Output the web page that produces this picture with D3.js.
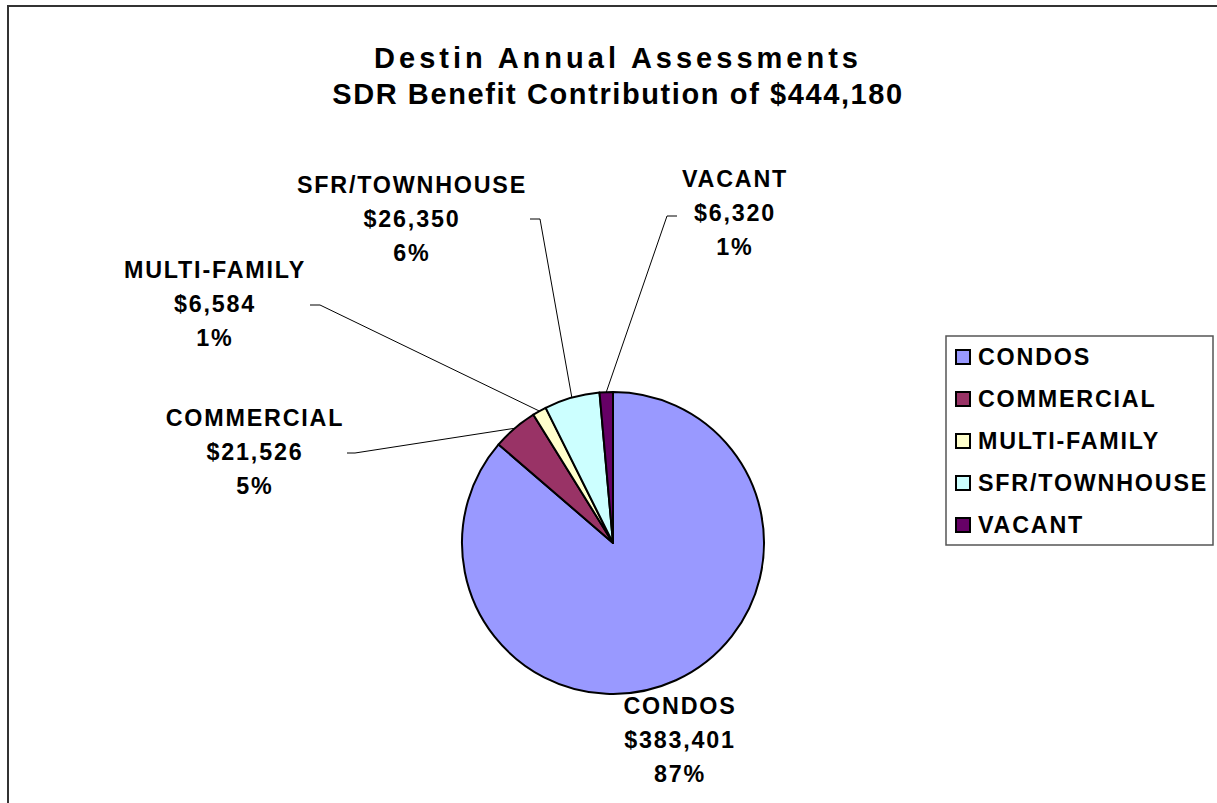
<!DOCTYPE html>
<meta charset="utf-8">
<script src="https://d3js.org/d3.v7.min.js"></script>
<style>
html, body { margin: 0; padding: 0; background: #fff; }
text { font-family: "Liberation Sans", Arial, sans-serif; font-weight: bold; fill: #000; }
</style>
<body>
<div id="my_dataviz"></div>
<script>

// data
var categories = ["CONDOS", "COMMERCIAL", "MULTI-FAMILY", "SFR/TOWNHOUSE", "VACANT"];
var values = [383401, 21526, 6584, 26350, 6320];
var percents = [87, 5, 1, 6, 1];
var colors = ["#9999FF", "#993366", "#FFFFCC", "#CCFFFF", "#660066"];
var titleLines = ["Destin Annual Assessments", "SDR Benefit Contribution of $444,180"];

// layout of the data labels (centre of first line), and where the leader starts
var labelAt = [[680, 706], [255, 418], [215, 270], [412, 185], [735, 179]];
var leaderFrom = [null, [347, 453, 8], [310, 305, 10], [530, 219, 10], [677, 216, -10]];
var titleSpacing = [4.0, 1.6];

var width = 1217, height = 803;
var cx = 613, cy = 543, radius = 151;
var fs = 23.3, ls = 1.8, lineGap = 34;

var svg = d3.select("#my_dataviz")
  .append("svg")
    .attr("width", width)
    .attr("height", height);

// outer frame (runs off right and bottom)
svg.append("rect")
  .attr("x", 8).attr("y", 6)
  .attr("width", 1230).attr("height", 820)
  .attr("fill", "none")
  .attr("stroke", "#333")
  .attr("stroke-width", 2);

// title
svg.selectAll(".title")
  .data(titleLines)
  .enter().append("text")
    .attr("class", "title")
    .attr("x", 618)
    .attr("y", function(d, i) { return 68 + i * 36; })
    .attr("text-anchor", "middle")
    .style("font-size", "29px")
    .style("letter-spacing", function(d, i) { return titleSpacing[i] + "px"; })
    .text(function(d) { return d; });

var pie = d3.pie().sort(null).value(function(d) { return d; });
var arcs = pie(values);
var arc = d3.arc().innerRadius(0).outerRadius(radius);

var g = svg.append("g").attr("transform", "translate(" + cx + "," + cy + ")");

g.selectAll("path")
  .data(arcs)
  .enter().append("path")
    .attr("d", arc)
    .attr("fill", function(d, i) { return colors[i]; })
    .attr("stroke", "#000")
    .attr("stroke-width", 2)
    .attr("stroke-linejoin", "round");

// leader lines
arcs.forEach(function(d, i) {
  var f = leaderFrom[i];
  if (!f) return;
  var a = (d.startAngle + d.endAngle) / 2;
  var px = cx + radius * Math.sin(a), py = cy - radius * Math.cos(a);
  svg.append("polyline")
    .attr("points", [[f[0], f[1]], [f[0] + f[2], f[1]], [px, py]].map(function(p) { return p.join(","); }).join(" "))
    .attr("fill", "none")
    .attr("stroke", "#000")
    .attr("stroke-width", 1);
});

// data labels
var fmt = d3.format("$,");
categories.forEach(function(c, i) {
  var lines = [c, fmt(values[i]), percents[i] + "%"];
  svg.append("g").selectAll("text")
    .data(lines)
    .enter().append("text")
      .attr("x", labelAt[i][0])
      .attr("y", function(d, j) { return labelAt[i][1] + j * lineGap + fs * 0.358; })
      .attr("text-anchor", "middle")
      .style("font-size", fs + "px")
      .style("letter-spacing", ls + "px")
      .text(function(d) { return d; });
});

// legend
var legend = svg.append("g");
legend.append("rect")
  .attr("x", 946).attr("y", 336)
  .attr("width", 267).attr("height", 209)
  .attr("fill", "#fff")
  .attr("stroke", "#555")
  .attr("stroke-width", 1.5);

var rowY = d3.scalePoint().domain(categories).range([357, 525]);

var item = legend.selectAll(".item")
  .data(categories)
  .enter().append("g")
    .attr("class", "item")
    .attr("transform", function(d) { return "translate(0," + rowY(d) + ")"; });

item.append("rect")
  .attr("x", 956).attr("y", -7)
  .attr("width", 14).attr("height", 14)
  .attr("fill", function(d, i) { return colors[i]; })
  .attr("stroke", "#000")
  .attr("stroke-width", 2);

item.append("text")
  .attr("x", 978)
  .attr("y", fs * 0.358)
  .style("font-size", fs + "px")
  .style("letter-spacing", ls + "px")
  .text(function(d) { return d; });

</script>
</body>
